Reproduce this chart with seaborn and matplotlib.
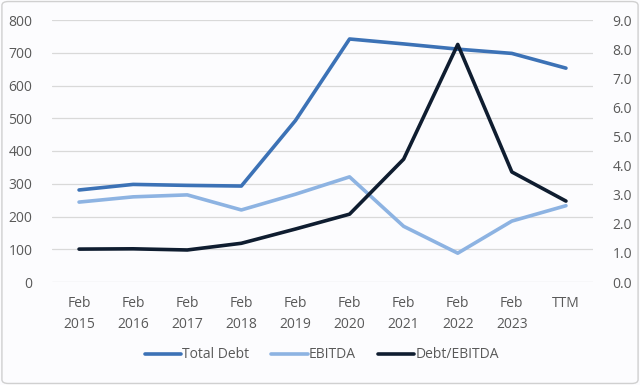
import matplotlib
matplotlib.use("Agg")
import matplotlib.pyplot as plt
import seaborn as sns
import pandas as pd
from matplotlib.patches import FancyBboxPatch

categories = ["Feb\n2015", "Feb\n2016", "Feb\n2017", "Feb\n2018", "Feb\n2019",
              "Feb\n2020", "Feb\n2021", "Feb\n2022", "Feb\n2023", "TTM"]
total_debt = [281, 298, 295, 293, 493, 742, 727, 711, 698, 653]
ebitda = [244, 260, 266, 220, 268, 321, 170, 88, 186, 233]
debt_ebitda = [1.13, 1.14, 1.10, 1.33, 1.82, 2.33, 4.22, 8.16, 3.78, 2.78]
left_ticks = [0, 100, 200, 300, 400, 500, 600, 700, 800]
right_ticks = [0, 1, 2, 3, 4, 5, 6, 7, 8, 9]

sns.set_theme(style="white")
plt.rcParams['font.family'] = ['Open Sans', 'DejaVu Sans']

df = pd.DataFrame({"cat": categories, "Total Debt": total_debt,
                   "EBITDA": ebitda, "Debt/EBITDA": debt_ebitda})
df["x"] = range(len(categories))

bg = "#fcfcfe"
fig = plt.figure(figsize=(6.4, 3.85), dpi=100, facecolor=bg)
ax = fig.add_axes([52/640, 1-282/385, (593-52)/640, (282-20)/385])
ax.set_facecolor(bg)
ax2 = ax.twinx()

c_debt = "#3c72b6"
c_ebitda = "#8db3e2"
c_ratio = "#0f1d30"
lw = 2.6

sns.lineplot(data=df, x="x", y="Total Debt", ax=ax, color=c_debt, lw=lw, label="Total Debt", legend=False)
sns.lineplot(data=df, x="x", y="EBITDA", ax=ax, color=c_ebitda, lw=lw, label="EBITDA", legend=False)
sns.lineplot(data=df, x="x", y="Debt/EBITDA", ax=ax2, color=c_ratio, lw=lw, label="Debt/EBITDA", legend=False)

ax.set_xlim(-0.5, len(categories) - 0.5)
ax.set_ylim(0, 800)
ax2.set_ylim(0, 9)
ax.set_yticks(left_ticks)
ax.set_yticklabels([str(t) for t in left_ticks])
ax2.set_yticks(right_ticks)
ax2.set_yticklabels([f"{t:.1f}" for t in right_ticks])
ax.set_xticks(df["x"])
ax.set_xticklabels(categories, linespacing=1.6)

tc = "#595959"
fs = 10
ax.tick_params(axis="y", length=0, pad=14, labelsize=fs, labelcolor=tc)
ax2.tick_params(axis="y", length=0, pad=14, labelsize=fs, labelcolor=tc)
ax.tick_params(axis="x", length=0, pad=10, labelsize=fs, labelcolor=tc)
for a in (ax, ax2):
    a.set_xlabel("")
    a.set_ylabel("")
    for s in a.spines.values():
        s.set_visible(False)
ax.grid(axis="y", color="#d9d9d9", lw=0.9)
ax.set_axisbelow(True)

h1, l1 = ax.get_legend_handles_labels()
h2, l2 = ax2.get_legend_handles_labels()
fig.legend(h1 + h2, l1 + l2, loc="center", bbox_to_anchor=(0.503, 1-355/385),
           ncol=3, frameon=False, fontsize=fs, labelcolor=tc,
           handlelength=2.6, handletextpad=0.1, columnspacing=1.6)

border = FancyBboxPatch((0.003, 0.004), 0.994, 0.992, boxstyle="round,pad=0,rounding_size=0.01",
                        transform=fig.transFigure, fill=False, edgecolor="#d0d0d0", lw=1)
fig.patches.append(border)

fig.savefig("out.png", dpi=100, facecolor=bg)
